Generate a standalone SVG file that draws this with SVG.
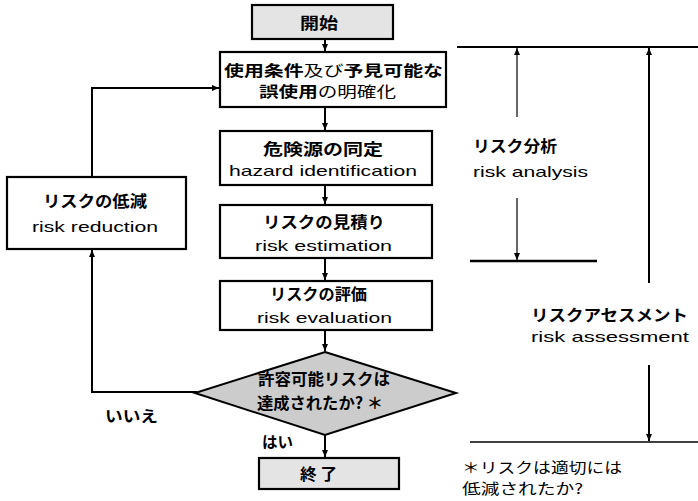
<svg xmlns="http://www.w3.org/2000/svg" width="698" height="501" viewBox="0 0 698 501">
<style>
.box{fill:#ffffff;stroke:#000;stroke-width:2.2}
.term{fill:#e4e4e4;stroke:#000;stroke-width:2.2}
.dia{fill:#cccccc;stroke:#000;stroke-width:2}
.jb{font-family:"Noto Sans CJK JP","Noto Sans",sans-serif;font-weight:bold;font-size:16px;fill:#000}
.jn{font-family:"Noto Sans CJK JP","Noto Sans",sans-serif;font-weight:normal;font-size:16px;fill:#000}
.sm{font-size:14.5px}
.en{font-family:"Liberation Sans","DejaVu Sans",sans-serif;font-size:15px;fill:#000}
.ln{fill:none;stroke:#000;stroke-width:2}
.thin{fill:none;stroke:#000;stroke-width:1.2}
</style>
<defs>
<marker id="ah" markerUnits="userSpaceOnUse" markerWidth="8" markerHeight="8" refX="7" refY="4" orient="auto">
<path d="M0,1 L7,4 L0,7 Z" fill="#000"/>
</marker>
</defs>
<rect width="698" height="501" fill="#ffffff"/>
<g id="connectors">
<path class="ln" d="M325,39 V51" marker-end="url(#ah)"/>
<path class="ln" d="M325,107 V130" marker-end="url(#ah)"/>
<path class="ln" d="M325,185 V204" marker-end="url(#ah)"/>
<path class="ln" d="M325,258 V280" marker-end="url(#ah)"/>
<path class="ln" d="M325,330 V351" marker-end="url(#ah)"/>
<path class="ln" d="M325,435 V457" marker-end="url(#ah)"/>
<path class="ln" d="M197,392 H92 V250" marker-end="url(#ah)"/>
<path class="ln" d="M92,177 V88 H219" marker-end="url(#ah)"/>
<path class="ln" d="M457,47 H698"/>
<path class="ln" d="M470,261 H597" style="stroke-width:2.5"/>
<path class="thin" d="M470,442 H698" style="stroke-width:1.6"/>
<path class="thin" d="M517,117 V48" marker-end="url(#ah)"/>
<path class="thin" d="M517,198 V260" marker-end="url(#ah)"/>
<path class="ln" d="M649,283 V48" marker-end="url(#ah)"/>
<path class="ln" d="M649,365 V441" marker-end="url(#ah)"/>
</g>
<g id="start">
<rect class="term" x="252" y="5" width="141" height="34"/>
<text class="jb" x="300" y="29" textLength="38" lengthAdjust="spacingAndGlyphs">開始</text>
</g>
<g id="context">
<rect class="box" x="220" y="52" width="226" height="55"/>
<text class="jn sm" x="224" y="76" textLength="219" lengthAdjust="spacingAndGlyphs"><tspan font-weight="bold">使用条件</tspan>及び<tspan font-weight="bold">予見可能な</tspan></text>
<text class="jn sm" x="259" y="97" textLength="137" lengthAdjust="spacingAndGlyphs"><tspan font-weight="bold">誤使用</tspan>の明確化</text>
</g>
<g id="hazard">
<rect class="box" x="220" y="131" width="212" height="54"/>
<text class="jb" x="263" y="155" textLength="120" lengthAdjust="spacingAndGlyphs">危険源の同定</text>
<text class="en" x="229" y="176" textLength="188" lengthAdjust="spacingAndGlyphs">hazard identification</text>
</g>
<g id="estimation">
<rect class="box" x="220" y="205" width="212" height="53"/>
<text class="jb" x="263" y="228" textLength="122" lengthAdjust="spacingAndGlyphs">リスクの見積り</text>
<text class="en" x="255" y="251" textLength="137" lengthAdjust="spacingAndGlyphs">risk estimation</text>
</g>
<g id="evaluation">
<rect class="box" x="220" y="281" width="212" height="49"/>
<text class="jb" x="270" y="300" textLength="97" lengthAdjust="spacingAndGlyphs">リスクの評価</text>
<text class="en" x="257" y="323" textLength="135" lengthAdjust="spacingAndGlyphs">risk evaluation</text>
</g>
<g id="decision">
<polygon class="dia" points="325,352 456,393 325,435 195,393"/>
<text class="jb" x="258" y="385" textLength="132" lengthAdjust="spacingAndGlyphs">許容可能リスクは</text>
<text class="jb" x="257" y="409" textLength="126" lengthAdjust="spacingAndGlyphs">達成されたか? ＊</text>
</g>
<g id="end">
<rect class="term" x="259" y="458" width="140" height="31"/>
<text class="jb" x="300" y="480" textLength="37" lengthAdjust="spacingAndGlyphs">終 了</text>
</g>
<g id="reduction">
<rect class="box" x="7" y="177" width="179" height="72"/>
<text class="jb" x="43" y="207" textLength="104" lengthAdjust="spacingAndGlyphs">リスクの低減</text>
<text class="en" x="32" y="232" textLength="126" lengthAdjust="spacingAndGlyphs">risk reduction</text>
</g>
<g id="labels">
<text class="jb" x="105" y="422" textLength="53" lengthAdjust="spacingAndGlyphs">いいえ</text>
<text class="jb" x="262" y="448" textLength="31" lengthAdjust="spacingAndGlyphs">はい</text>
</g>
<g id="risk-analysis">
<text class="jb" x="473" y="152" textLength="84" lengthAdjust="spacingAndGlyphs">リスク分析</text>
<text class="en" x="473" y="177" textLength="115" lengthAdjust="spacingAndGlyphs">risk analysis</text>
</g>
<g id="risk-assessment">
<text class="jb" x="531" y="321" textLength="157" lengthAdjust="spacingAndGlyphs">リスクアセスメント</text>
<text class="en" x="531" y="342" textLength="158" lengthAdjust="spacingAndGlyphs">risk assessment</text>
</g>
<g id="footnote">
<text class="jn sm" x="462" y="473" textLength="160" lengthAdjust="spacingAndGlyphs">＊リスクは適切には</text>
<text class="jn sm" x="462" y="494" textLength="121" lengthAdjust="spacingAndGlyphs">低減されたか?</text>
</g>
</svg>
